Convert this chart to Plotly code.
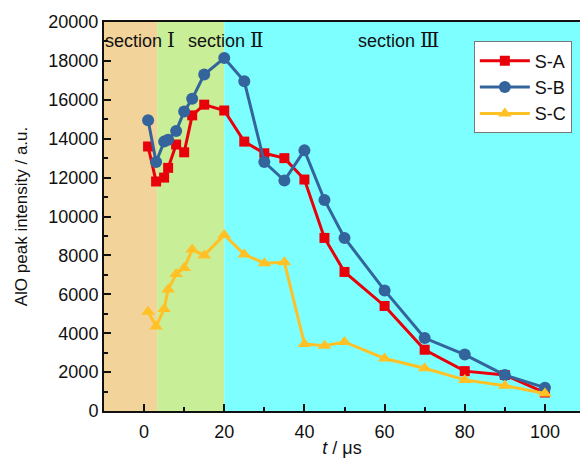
import plotly.graph_objects as go

t_vals = [1, 3, 5, 6, 8, 10, 12, 15, 20, 25, 30, 35, 40, 45, 50, 60, 70, 80, 90, 100]
s_a = [13600, 11800, 12000, 12500, 13700, 13300, 15200, 15750, 15450, 13850, 13250, 13000, 11900, 8900, 7150, 5400, 3150, 2050, 1850, 950]
s_b = [14950, 12800, 13850, 13950, 14400, 15400, 16050, 17300, 18150, 16950, 12800, 11850, 13400, 10850, 8900, 6200, 3750, 2900, 1850, 1200]
s_c = [5100, 4350, 5250, 6250, 7050, 7350, 8300, 8000, 9050, 8050, 7600, 7650, 3450, 3350, 3550, 2700, 2200, 1600, 1300, 900]

series_names = ["S-A", "S-B", "S-C"]
section_bounds = [-10, 3.25, 20, 108.75]
section_labels = ["section Ⅰ", "section Ⅱ", "section Ⅲ"]
section_label_x = [-1.0, 20.5, 63.5]
y_ticks = list(range(0, 20001, 2000))
x_ticks = [0, 20, 40, 60, 80, 100]

FONT = "Arial, 'Liberation Sans', sans-serif"
band_colors = ["#F2D39A", "#C9EE98", "#7DFFFF"]

fig = go.Figure()

styles = [
    dict(color="#E8000A", symbol="square", size=10),
    dict(color="#34649C", symbol="circle", size=12),
    dict(color="#FFC125", symbol="triangle-up", size=12),
]
for name, ys, st in zip(series_names, [s_a, s_b, s_c], styles):
    fig.add_trace(go.Scatter(
        x=t_vals, y=ys, name=name, mode="lines+markers",
        line=dict(color=st["color"], width=3),
        marker=dict(color=st["color"], symbol=st["symbol"], size=st["size"], line=dict(width=0)),
    ))

for i in range(3):
    fig.add_shape(type="rect", xref="x", yref="paper",
                  x0=section_bounds[i], x1=section_bounds[i + 1], y0=0, y1=1,
                  fillcolor=band_colors[i], line=dict(width=0), layer="below")

for lbl, xx in zip(section_labels, section_label_x):
    base, num = lbl.split(" ")
    fig.add_annotation(
        x=xx, y=0.955, xref="x", yref="paper", showarrow=False,
        text=f"{base} <span style=\"font-family:'DejaVu Serif', 'Liberation Serif', serif; font-size:20px\">{num}</span>",
        font=dict(family=FONT, size=18, color="#111"),
        xanchor="center", yanchor="middle",
    )

fig.update_layout(
    width=580, height=459,
    margin=dict(l=104, r=0, t=22, b=48),
    plot_bgcolor="white", paper_bgcolor="white",
    font=dict(family=FONT, size=18, color="#111"),
    showlegend=True,
    legend=dict(
        x=0.777, y=0.95, xanchor="left", yanchor="top",
        bgcolor="white", bordercolor="#777", borderwidth=1,
        font=dict(family=FONT, size=18, color="#111"),
        tracegroupgap=0, itemwidth=50,
    ),
    xaxis=dict(
        range=[section_bounds[0], section_bounds[-1]],
        tickmode="array", tickvals=x_ticks, ticktext=[str(v) for v in x_ticks],
        ticks="inside", ticklen=7, tickwidth=2, tickcolor="#111",
        minor=dict(tickvals=[10, 30, 50, 70, 90], ticks="inside", ticklen=4, tickwidth=2, tickcolor="#111"),
        showline=True, linecolor="#111", linewidth=2, mirror=True,
        showgrid=False, zeroline=False,
        tickfont=dict(size=18), ticklabelstandoff=3,
        title=dict(text="<i>t</i> / μs", font=dict(size=18), standoff=1),
    ),
    yaxis=dict(
        range=[0, 20000],
        tickmode="array", tickvals=y_ticks, ticktext=[str(v) for v in y_ticks],
        ticks="inside", ticklen=7, tickwidth=2, tickcolor="#111",
        minor=dict(tickvals=list(range(1000, 20000, 2000)), ticks="inside", ticklen=4, tickwidth=2, tickcolor="#111"),
        showline=True, linecolor="#111", linewidth=2,
        showgrid=False, zeroline=False,
        tickfont=dict(size=18),
        title=dict(text="AlO peak intensity / a.u.", font=dict(size=17), standoff=16),
    ),
)

fig.write_html("out.html")
